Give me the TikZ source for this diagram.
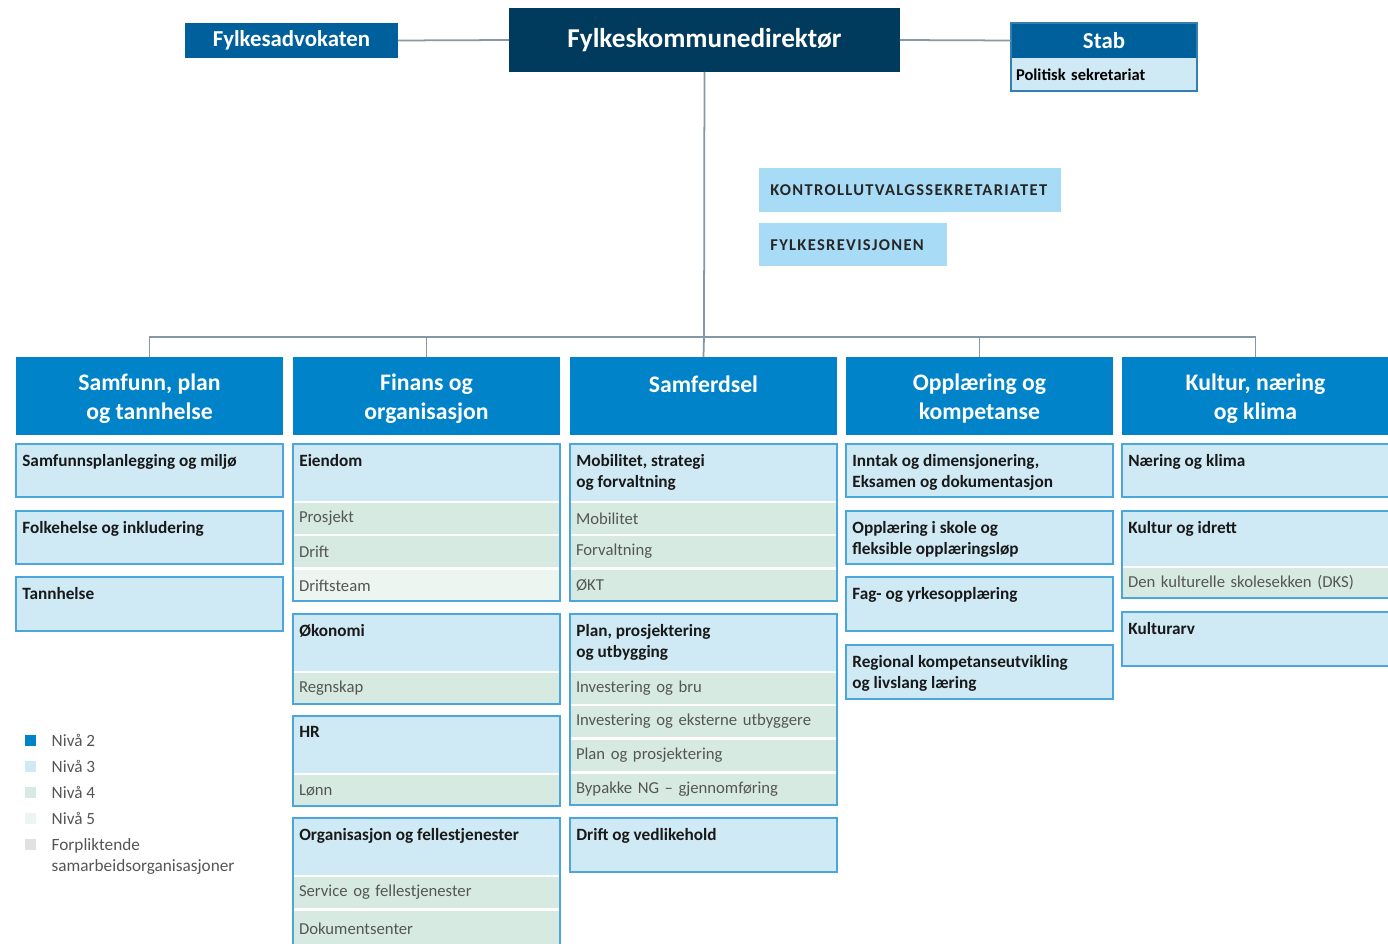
\documentclass[tikz,border=0pt]{standalone}
\usepackage{fontspec}
\setmainfont{Carlito}
\newfontfamily\spaced[LetterSpace=8]{Carlito}
\usetikzlibrary{positioning}

\definecolor{navy}{HTML}{003A5D}
\definecolor{advblue}{HTML}{00609C}
\definecolor{niva2}{HTML}{0083C9}
\definecolor{niva3}{HTML}{CFEAF5}
\definecolor{niva4}{HTML}{D6EAE2}
\definecolor{niva5}{HTML}{ECF5F0}
\definecolor{forpl}{HTML}{E1E1E1}
\definecolor{edge}{HTML}{4BA6DC}
\definecolor{kontroll}{HTML}{A8DCF6}
\definecolor{linegrey}{HTML}{8797A4}
\definecolor{subtext}{HTML}{555555}

\begin{document}
\begin{tikzpicture}[x=0.02cm,y=-0.02cm]
  \tikzset{
    conn/.style={draw=linegrey, line width=1pt},
    topbox/.style={fill=#1, text=white, anchor=north west, inner sep=0pt, outer sep=0pt},
    lvltwo/.style={fill=niva2, text=white, anchor=north west, minimum width=5.34cm,
      minimum height=1.56cm, align=center, inner sep=0pt, outer sep=0pt,
      font=\bfseries\fontsize{13.5}{16.5}\selectfont},
    lvlthree/.style={fill=niva3, anchor=north west, minimum width=5.34cm,
      minimum height=#1, inner sep=0pt, outer sep=0pt},
    lvlthree/.default=1.06cm,
    boxed/.style={draw=edge, line width=1.1pt},
    name3/.style={anchor=north west, align=left, inner xsep=0.12cm, inner ysep=0.2cm,
      text=black!90, font=\bfseries\fontsize{9.8}{12}\selectfont},
    lvlfour/.style={fill=#1, anchor=north west, text width=5.1cm, inner xsep=0.12cm,
      inner ysep=0pt, minimum height=0.62cm, outer sep=0pt, align=left, text=subtext,
      font=\fontsize{9.5}{12}\selectfont},
    lvlfour/.default=niva4,
    kontr/.style={fill=kontroll, anchor=north west, text width=#1, inner xsep=0.22cm,
      minimum height=0.87cm, align=left, text=black!85,
      font=\spaced\bfseries\fontsize{9.4}{11}\selectfont},
    legsq/.style={fill=#1, minimum size=0.22cm, inner sep=0pt},
    legtxt/.style={inner sep=0pt, align=left, text=subtext,
      font=\fontsize{9.8}{12}\selectfont}
  }
  \useasboundingbox (0,0) rectangle (1388,943);
  \clip (0,0) rectangle (1388,943);

  % top level
  \node[topbox=navy, minimum width=7.82cm, minimum height=1.28cm,
    font=\bfseries\fontsize{15.5}{18}\selectfont] (direktor) at (509,8) {Fylkeskommunedirektør};
  \node[topbox=advblue, minimum width=4.26cm, minimum height=0.7cm,
    font=\bfseries\fontsize{13}{15}\selectfont] (advokat) at (185,23) {Fylkesadvokaten};
  \node[topbox=advblue, minimum width=3.72cm, minimum height=0.7cm,
    font=\bfseries\fontsize{13}{15}\selectfont] (stab) at (1011,23) {Stab};
  \node[lvlfour=niva3, text width=3.52cm, inner xsep=0.1cm, minimum height=0.66cm, text=black,
    font=\bfseries\fontsize{9.4}{11}\selectfont] (polsek) at (1011,58) {Politisk sekretariat};
  \draw[draw=advblue!80, line width=1.1pt] (stab.north west) rectangle (polsek.south east);

  \node[kontr=5.6cm] (kus) at (759,168) {KONTROLLUTVALGSSEKRETARIATET};
  \node[kontr=3.32cm, minimum height=0.86cm] (revisjon) at (759,223) {FYLKESREVISJONEN};

  % level 2
  \node[lvltwo] (samfunn) at (16,357) {\\[-4pt]Samfunn, plan\\og tannhelse};
  \node[lvltwo] (finans) at (293,357) {\\[-4pt]Finans og\\organisasjon};
  \node[lvltwo] (samferdsel) at (570,357) {\\[-4pt]Samferdsel\\\mbox{}};
  \node[lvltwo] (opplaering) at (846,357) {\\[-4pt]Opplæring og\\kompetanse};
  \node[lvltwo] (kultur) at (1122,357) {\\[-4pt]Kultur, næring\\og klima};

  % connectors
  \coordinate (bus) at (704,337);
  \draw[conn] (advokat.east) -- (direktor.west);
  \draw[conn] (direktor.east) -- (stab.west);
  \draw[conn] (direktor.south) -- (bus);
  \draw[conn] (samfunn.north) |- (bus) -| (kultur.north);
  \draw[conn] (finans.north) -- (finans.north |- bus);
  \draw[conn] (samferdsel.north) -- (bus);
  \draw[conn] (opplaering.north) -- (opplaering.north |- bus);

  % Samfunn, plan og tannhelse
  \node[lvlthree, boxed, label={[name3]north west:Samfunnsplanlegging og miljø}] (sampl) at (16,444) {};
  \node[lvlthree, boxed, label={[name3]north west:Folkehelse og inkludering}] (folkeh) at (16,511) {};
  \node[lvlthree=1.08cm, boxed, label={[name3]north west:Tannhelse}] (tannh) at (16,577) {};

  % Finans og organisasjon
  \node[lvlthree=1.14cm, label={[name3]north west:Eiendom}] (eiendom) at (293,444) {};
  \node[lvlfour] (prosjekt) at (293,503) {Prosjekt};
  \node[lvlfour] (drift) at (293,536) {Drift};
  \node[lvlfour=niva5] (driftsteam) at (293,570) {Driftsteam};
  \draw[boxed] (eiendom.north west) rectangle (driftsteam.south east);

  \node[lvlthree=1.14cm, label={[name3]north west:Økonomi}] (okonomi) at (293,614) {};
  \node[lvlfour] (regnskap) at (293,673) {Regnskap};
  \draw[boxed] (okonomi.north west) rectangle (regnskap.south east);

  \node[lvlthree=1.14cm, label={[name3]north west:HR}] (hr) at (293,716) {};
  \node[lvlfour] (lonn) at (293,775) {Lønn};
  \draw[boxed] (hr.north west) rectangle (lonn.south east);

  \node[lvlthree=1.14cm, label={[name3]north west:Organisasjon og fellestjenester}] (orgfelles) at (293,818) {};
  \node[lvlfour] (service) at (293,877) {Service og fellestjenester};
  \node[lvlfour, minimum height=0.7cm] (doksenter) at (293,911) {Dokumentsenter};
  \draw[boxed] (orgfelles.north west) rectangle (doksenter.south east);

  % Samferdsel
  \node[lvlthree=1.14cm, label={[name3]north west:{Mobilitet, strategi\\og forvaltning}}] (mobstrat) at (570,444) {};
  \node[lvlfour] (mobilitet) at (570,503) {Mobilitet};
  \node[lvlfour] (forvaltning) at (570,536) {Forvaltning};
  \node[lvlfour] (okt) at (570,570) {ØKT};
  \draw[boxed] (mobstrat.north west) rectangle (okt.south east);

  \node[lvlthree=1.14cm, label={[name3]north west:{Plan, prosjektering\\og utbygging}}] (planutb) at (570,614) {};
  \node[lvlfour] (invbru) at (570,673) {Investering og bru};
  \node[lvlfour] (inveks) at (570,706) {Investering og eksterne utbyggere};
  \node[lvlfour] (planpro) at (570,740) {Plan og prosjektering};
  \node[lvlfour] (bypakke) at (570,774) {Bypakke NG – gjennomføring};
  \draw[boxed] (planutb.north west) rectangle (bypakke.south east);

  \node[lvlthree=1.08cm, boxed, label={[name3]north west:Drift og vedlikehold}] (driftvedl) at (570,818) {};

  % Opplaering og kompetanse
  \node[lvlthree, boxed, label={[name3]north west:{Inntak og dimensjonering,\\Eksamen og dokumentasjon}}] (inntak) at (846,444) {};
  \node[lvlthree, boxed, label={[name3]north west:{Opplæring i skole og\\fleksible opplæringsløp}}] (skole) at (846,511) {};
  \node[lvlthree=1.08cm, boxed, label={[name3]north west:Fag- og yrkesopplæring}] (fagyrke) at (846,577) {};
  \node[lvlthree=1.08cm, boxed, label={[name3]north west:{Regional kompetanseutvikling\\og livslang læring}}] (regional) at (846,645) {};

  % Kultur, naering og klima
  \node[lvlthree, boxed, label={[name3]north west:Næring og klima}] (naering) at (1122,444) {};
  \node[lvlthree=1.1cm, label={[name3]north west:Kultur og idrett}] (idrett) at (1122,511) {};
  \node[lvlfour, minimum height=0.6cm] (dks) at (1122,568) {Den kulturelle skolesekken (DKS)};
  \draw[boxed] (idrett.north west) rectangle (dks.south east);
  \node[lvlthree=1.08cm, boxed, label={[name3]north west:Kulturarv}] (kulturarv) at (1122,612) {};

  % legend
  \node[legsq=niva2] (l2) at (30.5,740) {};
  \node[legsq=niva3] (l3) at (30.5,766) {};
  \node[legsq=niva4] (l4) at (30.5,792) {};
  \node[legsq=niva5] (l5) at (30.5,818) {};
  \node[legsq=forpl] (l6) at (30.5,844) {};
  \node[legtxt, right=0.3cm of l2] {Nivå 2};
  \node[legtxt, right=0.3cm of l3] {Nivå 3};
  \node[legtxt, right=0.3cm of l4] {Nivå 4};
  \node[legtxt, right=0.3cm of l5] {Nivå 5};
  \node[legtxt, right=0.3cm of l6.north east, anchor=north west] {Forpliktende\\samarbeidsorganisasjoner};
\end{tikzpicture}
\end{document}
